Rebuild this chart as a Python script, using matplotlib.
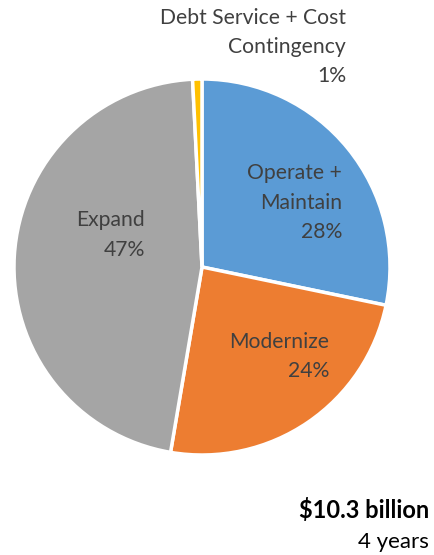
import matplotlib.pyplot as plt

plt.rcParams['font.family'] = ['Lato', 'DejaVu Sans']

# slice shares (clockwise from 12 o'clock)
categories = ['Operate + Maintain', 'Modernize', 'Expand', 'Debt Service + Cost Contingency']
shares = [28.25, 24.4, 46.5, 0.8]
pct_labels = ['28%', '24%', '47%', '1%']
colors = ['#5B9BD5', '#ED7D31', '#A5A5A5', '#FFC000']

W, H = 434, 555
fig = plt.figure(figsize=(W / 100, H / 100), dpi=100)
ax = fig.add_axes([0, 0, 1, 1])

cx, cy, r = 202, H - 267, 188
ax.pie(shares, colors=colors, startangle=90, counterclock=False,
       center=(cx, cy), radius=r, frame=True,
       wedgeprops=dict(edgecolor='white', linewidth=2.5))
ax.set_xlim(0, W)
ax.set_ylim(0, H)
ax.set_aspect('equal')
ax.axis('off')

txt = '#404040'
fs = 15.2


def put_lines(lines, x_right, y_tops, color=txt, weight='normal', size=fs):
    for line, y in zip(lines, y_tops):
        ax.text(x_right, H - y, line, ha='right', va='center',
                fontsize=size, color=color, fontweight=weight)


# label lines (pixel positions from the reference)
put_lines(['Operate +', 'Maintain', pct_labels[0]], 342, [173, 203, 232])
put_lines(['Modernize', pct_labels[1]], 329, [342, 371])
put_lines(['Expand', pct_labels[2]], 145, [220, 250])
put_lines(['Debt Service + Cost', 'Contingency', pct_labels[3]], 346, [18, 47, 76])

put_lines(['$10.3 billion'], 429, [510], color='black', weight='bold', size=17)
put_lines(['4 years'], 429, [542], color='black', size=16)

fig.savefig('out.png', dpi=100)
